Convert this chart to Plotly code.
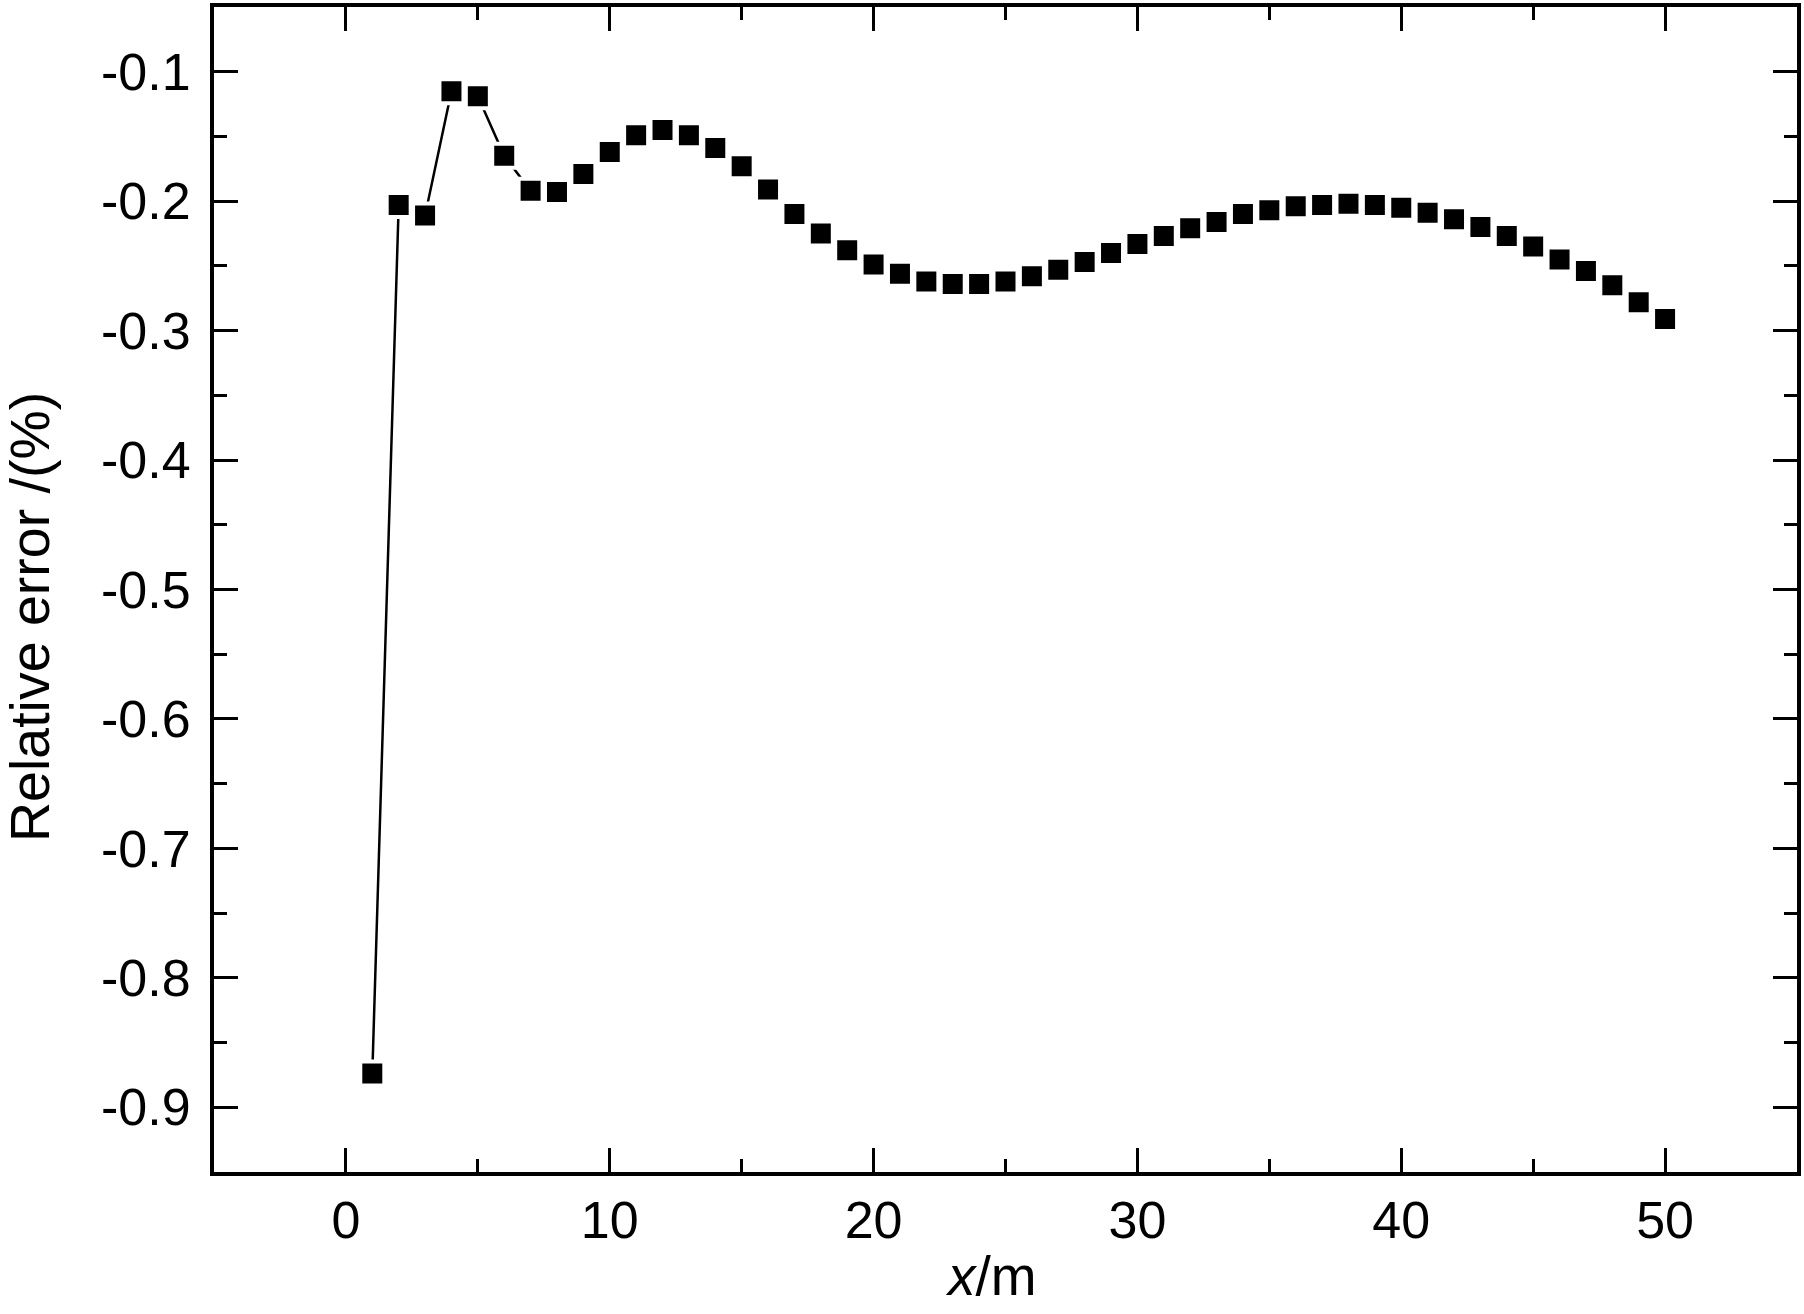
import plotly.graph_objects as go

# distance along the line (m)
x_m = list(range(1, 51))

# relative error (%)
rel_err = [
    -0.874, -0.203, -0.211, -0.115, -0.119, -0.165, -0.192, -0.193, -0.179, -0.162,
    -0.149, -0.145, -0.149, -0.159, -0.173, -0.191, -0.210, -0.225, -0.238, -0.249,
    -0.256, -0.262, -0.264, -0.264, -0.262, -0.258, -0.253, -0.247, -0.240, -0.233,
    -0.227, -0.221, -0.216, -0.210, -0.207, -0.204, -0.203, -0.202, -0.203, -0.205,
    -0.209, -0.214, -0.220, -0.227, -0.235, -0.245, -0.254, -0.265, -0.278, -0.291,
]

x_ticks = [0, 10, 20, 30, 40, 50]
x_minor = [5, 15, 25, 35, 45]
y_ticks = [-0.9, -0.8, -0.7, -0.6, -0.5, -0.4, -0.3, -0.2, -0.1]
y_ticktext = ["-0.9", "-0.8", "-0.7", "-0.6", "-0.5", "-0.4", "-0.3", "-0.2", "-0.1"]
y_minor = [-0.85, -0.75, -0.65, -0.55, -0.45, -0.35, -0.25, -0.15]

FONT = "Liberation Sans, Arial, sans-serif"

# plot-area placement in pixels (1804 x 1314 page)
W, H = 1804, 1314
L, R, T, B = 214, 7, 7, 142
pw, ph = W - L - R, H - T - B

fig = go.Figure()

# white stroke round the squares gives the small gap where the line meets a marker
fig.add_trace(go.Scatter(
    x=x_m, y=rel_err, mode="lines+markers",
    line=dict(color="black", width=2.5),
    marker=dict(symbol="square", size=24, color="black",
                line=dict(color="white", width=4)),
    showlegend=False, cliponaxis=False,
))

axis_common = dict(
    showline=True, linecolor="black", linewidth=4,
    mirror="ticks", ticks="inside", ticklen=24, tickwidth=3, tickcolor="black",
    showgrid=False, zeroline=False, automargin=False,
    tickfont=dict(family=FONT, size=52, color="black"),
)

fig.update_xaxes(
    range=[-5, 55], tickvals=x_ticks,
    minor=dict(tickvals=x_minor, ticks="inside", ticklen=13, tickwidth=3, tickcolor="black"),
    ticklabelstandoff=0,
    **axis_common,
)
fig.update_yaxes(
    range=[-0.95, -0.05], tickvals=y_ticks, ticktext=y_ticktext,
    minor=dict(tickvals=y_minor, ticks="inside", ticklen=13, tickwidth=3, tickcolor="black"),
    ticklabelstandoff=9,
    **axis_common,
)

# axis titles as annotations, positioned in page pixels
fig.add_annotation(
    xref="paper", yref="paper",
    x=(991 - L) / pw, y=(H - B - 1276) / ph, text="<i>x</i>/m",
    showarrow=False, font=dict(family=FONT, size=55, color="black"),
    xanchor="center", yanchor="middle",
)
fig.add_annotation(
    xref="paper", yref="paper",
    x=(30 - L) / pw, y=(H - B - 617) / ph, text="Relative error /(%)", textangle=-90,
    showarrow=False, font=dict(family=FONT, size=55.5, color="black"),
    xanchor="center", yanchor="middle",
)

fig.update_layout(
    width=W, height=H,
    margin=dict(l=L, r=R, t=T, b=B, pad=0),
    paper_bgcolor="white", plot_bgcolor="white",
    font=dict(family=FONT, color="black"),
)

# drop the browser's default body margin so the figure sits at the page corner
fig.write_html(
    "out.html",
    config={"displayModeBar": False},
    post_script="document.body.style.margin='0px';document.body.style.overflow='hidden';",
)
